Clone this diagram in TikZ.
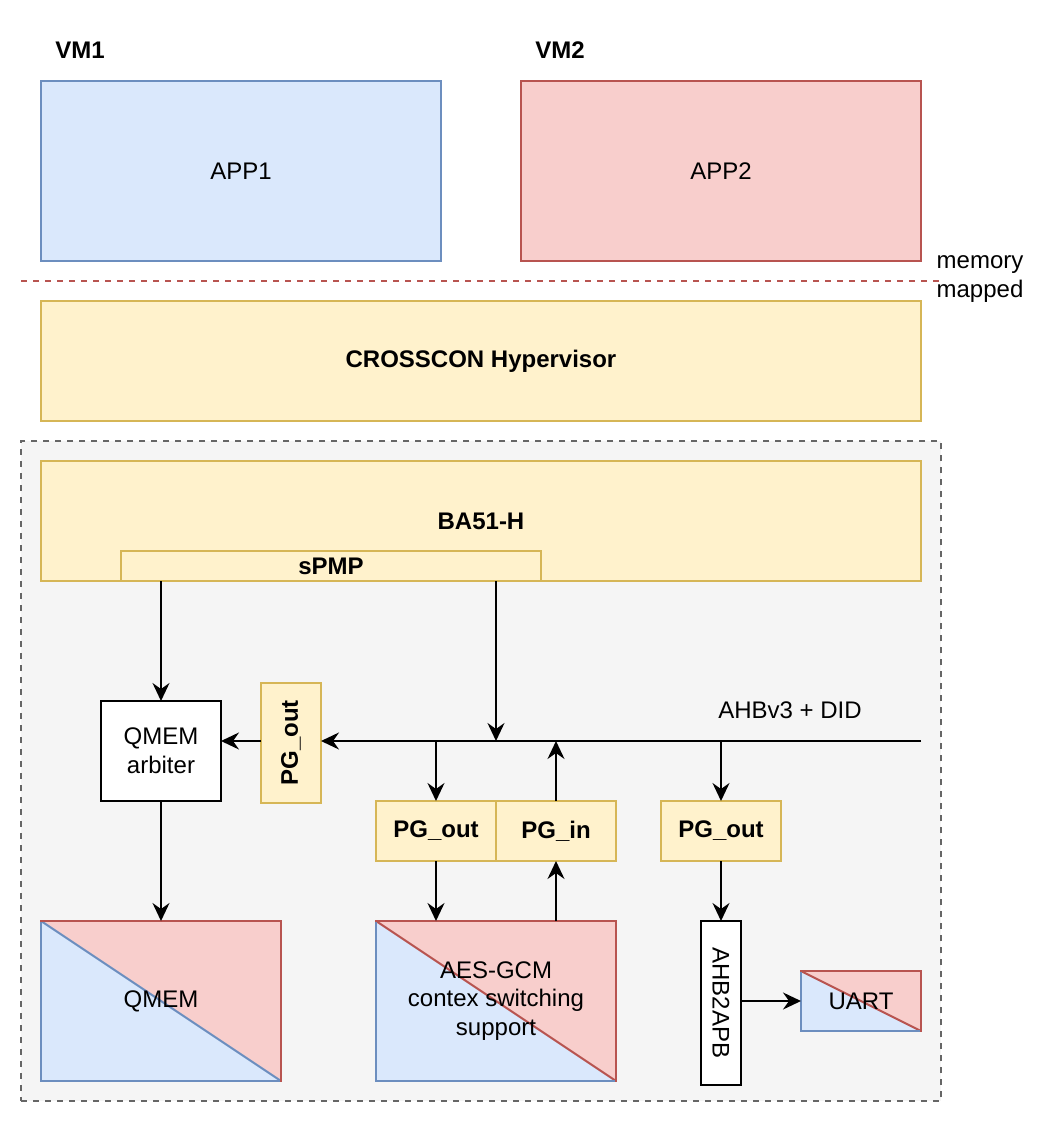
\documentclass[tikz,border=0pt]{standalone}
\usepackage{fontspec}
\setmainfont{Liberation Sans}
\usetikzlibrary{arrows.meta}
\definecolor{bfill}{HTML}{DAE8FC}
\definecolor{bline}{HTML}{6C8EBF}
\definecolor{rfill}{HTML}{F8CECC}
\definecolor{rline}{HTML}{B85450}
\definecolor{yfill}{HTML}{FFF2CC}
\definecolor{yline}{HTML}{D6B656}
\definecolor{gfill}{HTML}{F5F5F5}
\definecolor{gline}{HTML}{666666}
\tikzset{
  base/.style={inner sep=0pt, outer sep=0pt, line width=2pt, align=center},
  bluebox/.style={base, draw=bline, fill=bfill},
  redbox/.style={base, draw=rline, fill=rfill},
  ybox/.style={base, draw=yline, fill=yfill},
  wbox/.style={base, draw=black, fill=white},
  lbl/.style={inner sep=0pt, align=center},
  arr/.style={line width=2pt, -{Stealth[length=18pt,width=17pt,inset=6pt]}},
  splitblue/.style={base, path picture={
      \fill[rfill] (path picture bounding box.north west) -- (path picture bounding box.north east) -- (path picture bounding box.south east) -- cycle;
      \fill[bfill] (path picture bounding box.north west) -- (path picture bounding box.south west) -- (path picture bounding box.south east) -- cycle;
      \draw[bline, line width=2pt] (path picture bounding box.north west) -- (path picture bounding box.south east);}},
  splitred/.style={base, path picture={
      \fill[rfill] (path picture bounding box.north west) -- (path picture bounding box.north east) -- (path picture bounding box.south east) -- cycle;
      \fill[bfill] (path picture bounding box.north west) -- (path picture bounding box.south west) -- (path picture bounding box.south east) -- cycle;
      \draw[rline, line width=2pt] (path picture bounding box.north west) -- (path picture bounding box.south east);}},
}
\newcommand{\splitborder}[1]{%
  \draw[bline, line width=2pt, line cap=rect] (#1.north west) -- (#1.south west) -- (#1.south east);
  \draw[rline, line width=2pt, line cap=rect] (#1.north west) -- (#1.north east) -- (#1.south east);}
\begin{document}
\begin{tikzpicture}[x=1pt, y=-1pt, font=\fontsize{24}{28.8}\selectfont]
\useasboundingbox (0,0) rectangle (1062,1122);

% top area
\node[lbl, font=\fontsize{24}{28.8}\selectfont\bfseries] (vm1) at (80,50) {VM1};
\node[lbl, font=\fontsize{24}{28.8}\selectfont\bfseries] (vm2) at (560,50) {VM2};
\node[bluebox, minimum width=400pt, minimum height=180pt] (app1) at (241,171) {APP1};
\node[redbox, minimum width=400pt, minimum height=180pt] (app2) at (721,171) {APP2};

\coordinate (dl) at (21,281);
\coordinate (dr) at (939,281);
\draw[rline, line width=2pt, dash pattern=on 6pt off 6pt] (dl) -- (dr);
\node[lbl] (mm) at (980,279) {memory\\mapped};

\node[ybox, minimum width=880pt, minimum height=120pt, font=\fontsize{24}{28.8}\selectfont\bfseries] (hyp) at (481,361) {CROSSCON Hypervisor};

% outer dashed box
\node[base, draw=gline, fill=gfill, dash pattern=on 6pt off 6pt, minimum width=920pt, minimum height=660pt] (soc) at (481,771) {};

\node[ybox, minimum width=880pt, minimum height=120pt, font=\fontsize{24}{28.8}\selectfont\bfseries] (ba) at (481,521) {BA51-H};
\node[ybox, minimum width=420pt, minimum height=30pt, font=\fontsize{24}{28.8}\selectfont\bfseries] (spmp) at (331,566) {sPMP};

% middle
\node[wbox, minimum width=120pt, minimum height=100pt] (arb) at (161,751) {QMEM\\arbiter};
\node[ybox, rotate=90, minimum width=120pt, minimum height=60pt, font=\fontsize{24}{28.8}\selectfont\bfseries] (pga) at (291,743) {PG\_out};
\node[ybox, minimum width=120pt, minimum height=60pt, font=\fontsize{24}{28.8}\selectfont\bfseries] (pgb) at (436,831) {PG\_out};
\node[ybox, minimum width=120pt, minimum height=60pt, font=\fontsize{24}{28.8}\selectfont\bfseries] (pgin) at (556,831) {PG\_in};
\node[ybox, minimum width=120pt, minimum height=60pt, font=\fontsize{24}{28.8}\selectfont\bfseries] (pgc) at (721,831) {PG\_out};
\node[lbl] (ahbl) at (790,710) {AHBv3 + DID};

% bottom
\node[splitblue, minimum width=240pt, minimum height=160pt] (qmem) at (161,1001) {QMEM};
\splitborder{qmem}
\node[splitred, minimum width=240pt, minimum height=160pt] (aes) at (496,1001) {AES-GCM\\contex switching\\support};
\splitborder{aes}
\node[wbox, rotate=-90, minimum width=164pt, minimum height=40pt] (ahb) at (721,1003) {AHB2APB};
\node[splitred, minimum width=120pt, minimum height=60pt] (uart) at (861,1001) {UART};
\splitborder{uart}

% connectors
\coordinate (busR) at (921,741);
\coordinate (j1) at (496,741);
\draw[arr] (busR) -- (pga.south |- busR);
\draw[arr] (pga.north |- busR) -- (arb.east |- busR);
\draw[arr] (spmp.south -| arb.north) -- (arb.north);
\draw[arr] (spmp.south -| j1) -- (j1);
\draw[arr] (pgb.north |- busR) -- (pgb.north);
\draw[arr] (pgin.north) -- (pgin.north |- busR);
\draw[arr] (pgc.north |- busR) -- (pgc.north);
\draw[arr] (arb.south) -- (qmem.north);
\draw[arr] (pgb.south) -- (aes.north -| pgb.south);
\draw[arr] (aes.north -| pgin.south) -- (pgin.south);
\draw[arr] (pgc.south) -- (ahb.west);
\draw[arr] (ahb.north |- uart.west) -- (uart.west);
\end{tikzpicture}
\end{document}
